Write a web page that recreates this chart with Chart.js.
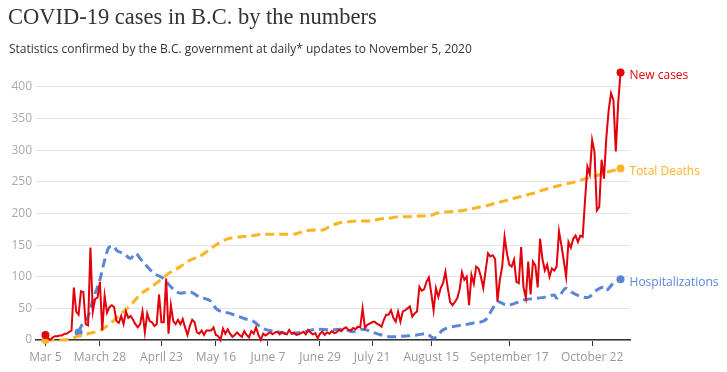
<!DOCTYPE html>
<html>
<head>
<meta charset="utf-8">
<script src="https://cdn.jsdelivr.net/npm/chart.js@4/dist/chart.umd.min.js"></script>
<style>
  html, body { margin: 0; padding: 0; background: #fff; }
  #wrap { position: relative; width: 727px; height: 372px; overflow: hidden; }
  #title {
    position: absolute; left: 8px; top: 4px;
    font-family: "Liberation Serif", serif; font-size: 22.5px; color: #333;
  }
  #sub {
    position: absolute; left: 9px; top: 40px;
    font-family: "Open Sans", sans-serif; font-size: 12px; color: #333;
  }
  canvas { position: absolute; left: 0; top: 0; }
</style>
</head>
<body>
<div id="wrap">
  <canvas id="chart" width="727" height="372"></canvas>
  <div id="title">COVID-19 cases in B.C. by the numbers</div>
  <div id="sub">Statistics confirmed by the B.C. government at daily* updates to November 5, 2020</div>
</div>
<script>
// x values are days since March 5, 2020
const tickDays = [0, 23, 49, 72, 94, 116, 138, 163, 196, 231];
const tickLabels = ["Mar 5", "March 28", "April 23", "May 16", "June 7", "June 29",
  "July 21", "August 15", "September 17", "October 22"];
const yTicks = [0, 50, 100, 150, 200, 250, 300, 350, 400];

// new cases, one value per day from day 0
const newCases = [
  8, 3, 0, 4, 6, 6, 7, 7, 10, 10, 13, 15,
  83, 45, 40, 77, 76, 25, 23, 146, 45, 65, 67, 92,
  15, 70, 43, 52, 55, 52, 30, 27, 38, 25, 45, 35,
  38, 32, 25, 20, 25, 45, 12, 42, 30, 28, 22, 25,
  72, 28, 28, 97, 10, 55, 30, 25, 32, 25, 33, 20,
  8, 22, 32, 28, 12, 10, 15, 8, 15, 15, 15, 20,
  8, 6, 0, 18, 10, 17, 10, 5, 8,
  12, 8, 5, 14, 8, 4, 14, 10, 20, 8, 0, 10, 7, 10, 12, 9, 12, 13, 9,
  13, 10, 9, 16, 10, 12, 8, 9, 11, 13, 9, 16, 12, 9, 11, 3, 10, 13, 8, 12,
  10, 14, 11, 12, 16, 14, 18, 20, 16, 15, 19, 17, 21, 20, 50,
  19, 24, 26, 28, 29, 26, 24, 21, 32, 40, 40, 47, 35, 29, 45, 29,
  45, 47, 50, 53, 37, 42, 45, 84, 78, 80, 92, 99, 75, 47, 82, 68, 82, 90, 108, 82,
  60, 55, 60, 66, 80, 107, 95, 100, 55, 103, 89, 116, 113, 100, 82, 110, 137, 132, 134, 128,
  61, 95, 116, 163, 137, 119, 116, 127, 92, 90, 147, 83, 67, 124, 72, 124, 118, 83, 160, 128,
  110, 119, 100, 113, 110, 116, 172, 150, 126, 100, 155, 146, 160, 165, 155, 165, 163, 221, 274, 262,
  316, 297, 205, 210, 285, 255, 320, 364, 390, 379, 298, 374, 423
];

const deathDays = [0, 7, 10, 13, 18, 23, 27, 30, 33, 36, 40, 44, 48, 52, 57, 61, 65, 69, 72, 75,
  78, 82, 86, 92, 98, 102, 106, 110, 114, 117, 120, 124, 128, 132, 137, 141, 146, 150, 154, 158,
  162, 165, 168, 172, 177, 182, 186, 190, 194, 198, 203, 207, 211, 215, 219, 224, 229, 233, 236, 240, 243];
const deaths = [0, 0, 1, 5, 10, 15, 25, 35, 45, 55, 72, 82, 93, 105, 116, 126, 132, 142, 150, 157,
  161, 163, 164, 167, 167, 167, 168, 173, 174, 174, 179, 185, 187, 188, 188, 191, 193, 195, 195, 196,
  196, 200, 202, 203, 205, 209, 212, 216, 220, 224, 229, 233, 238, 242, 246, 250, 256, 260, 264, 268, 271];

const hospDays = [14, 15, 18, 20, 23, 25, 27, 29, 30, 33, 36, 38, 40, 43, 46, 50, 53, 57, 61, 65,
  70, 72, 78, 84, 88, 92, 98, 103, 109, 115, 120, 126, 130, 134, 140, 146, 151, 157, 161, 164,
  168, 172, 177, 181, 186, 189, 191, 195, 203, 210, 215, 216, 220, 223, 229, 233, 236, 237, 240, 243];
const hospitalizations = [12, 21, 37, 63, 95, 126, 147, 148, 142, 137, 129, 137, 129, 116, 105, 97, 84, 74, 76, 68,
  61, 50, 42, 34, 29, 18, 13, 10, 13, 17, 16, 17, 13, 17, 10, 5, 6, 8, 10, 3,
  16, 21, 24, 27, 32, 50, 61, 55, 64, 67, 71, 66, 82, 74, 67, 79, 84, 79, 90, 96];

const RED = "#e3000b", YELLOW = "#fbb424", BLUE = "#5b86d8";

const endDots = (n) => (ctx) => (ctx.dataIndex === 0 || ctx.dataIndex === n - 1) ? 4 : 0;

const endLabels = {
  id: "endLabels",
  afterDatasetsDraw(chart) {
    const ctx = chart.ctx;
    ctx.save();
    ctx.font = "12px 'Open Sans', sans-serif";
    ctx.textBaseline = "middle";
    chart.data.datasets.forEach((ds, i) => {
      const pts = chart.getDatasetMeta(i).data;
      const p = pts[pts.length - 1];
      ctx.fillStyle = ds.borderColor;
      ctx.fillText(ds.label, p.x + 9, p.y + 3);
    });
    ctx.restore();
  }
};

new Chart(document.getElementById("chart"), {
  type: "line",
  data: {
    datasets: [
      {
        label: "New cases",
        data: newCases.map((v, i) => ({ x: i, y: v })),
        borderColor: RED, backgroundColor: RED,
        borderWidth: 2, tension: 0,
        pointRadius: endDots(newCases.length), pointBorderWidth: 0,
        clip: false
      },
      {
        label: "Total Deaths",
        data: deathDays.map((d, i) => ({ x: d, y: deaths[i] })),
        borderColor: YELLOW, backgroundColor: YELLOW,
        borderWidth: 3, borderDash: [9, 5], cubicInterpolationMode: "monotone",
        pointRadius: endDots(deaths.length), pointBorderWidth: 0,
        clip: false
      },
      {
        label: "Hospitalizations",
        data: hospDays.map((d, i) => ({ x: d, y: hospitalizations[i] })),
        borderColor: BLUE, backgroundColor: BLUE,
        borderWidth: 3, borderDash: [9, 5], cubicInterpolationMode: "monotone",
        pointRadius: endDots(hospitalizations.length), pointBorderWidth: 0,
        clip: false
      }
    ]
  },
  options: {
    responsive: false,
    animation: false,
    layout: { padding: { left: 0, right: 97, top: 68, bottom: 0 } },
    plugins: { legend: { display: false }, tooltip: { enabled: false } },
    scales: {
      x: {
        type: "linear", min: -4, max: 247,
        afterBuildTicks: (s) => { s.ticks = tickDays.map(v => ({ value: v })); },
        afterFit: (s) => { s.height = 32; },
        ticks: {
          autoSkip: false, maxRotation: 0, padding: 4,
          color: "#999", font: { family: "'Open Sans', sans-serif", size: 12 },
          callback: (v) => tickLabels[tickDays.indexOf(v)]
        },
        grid: { drawOnChartArea: false, drawTicks: true, tickLength: 6, color: "#333" },
        border: { display: true, color: "#333", width: 1.5 }
      },
      y: {
        min: 0, max: 430,
        afterBuildTicks: (s) => { s.ticks = yTicks.map(v => ({ value: v })); },
        afterFit: (s) => { s.width = 36; },
        ticks: {
          padding: 4, color: "#aaa",
          font: { family: "'Open Sans', sans-serif", size: 12 }
        },
        grid: { color: "#e4e4e4", drawTicks: false },
        border: { display: false }
      }
    }
  },
  plugins: [endLabels]
});
</script>
</body>
</html>
